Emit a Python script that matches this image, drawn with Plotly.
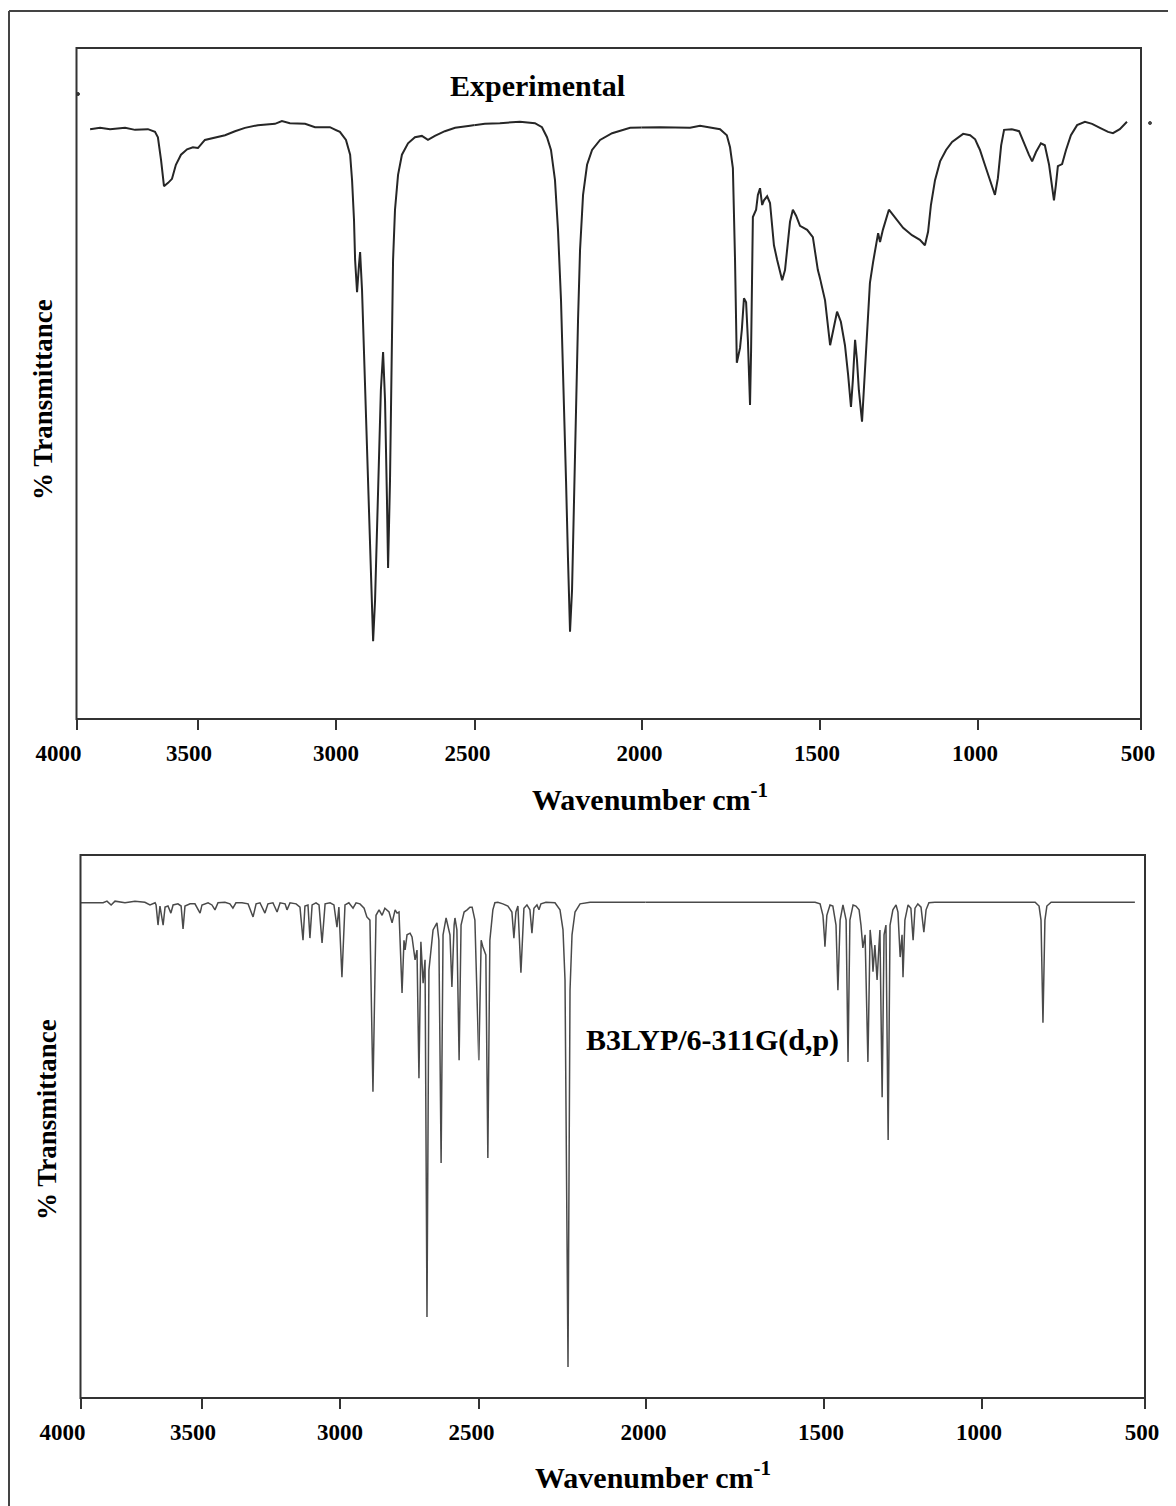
import plotly.graph_objects as go

# ---------------- data ----------------
tick_values = [4000, 3500, 3000, 2500, 2000, 1500, 1000, 500]
tick_labels = ["4000", "3500", "3000", "2500", "2000", "1500", "1000", "500"]

exp_wavenumber = [
    3944, 3903, 3862, 3800, 3759, 3706, 3677, 3665, 3652, 3640, 3623, 3607, 3591, 3570, 3545, 3521, 3500,
    3475, 3438, 3402, 3366, 3330, 3283, 3221, 3196, 3167, 3112, 3076, 3022,
    2986, 2964, 2949, 2942, 2935, 2931, 2924, 2917, 2913, 2906, 2899, 2892, 2884, 2877, 2870, 2866, 2859,
    2852, 2845, 2838, 2830, 2823, 2816, 2812, 2805, 2801, 2798, 2794, 2787, 2776, 2762, 2740, 2715, 2690,
    2668, 2643, 2607, 2570, 2516,
    2469, 2424, 2364, 2319, 2298, 2283, 2271, 2259, 2250, 2241, 2232, 2226, 2220, 2214, 2208, 2202, 2196,
    2190, 2184, 2175, 2163, 2148, 2124, 2088, 2034,
    1948, 1864, 1836, 1780, 1761, 1752, 1744, 1738, 1735, 1733, 1724, 1719, 1713, 1707, 1702, 1696, 1693,
    1691, 1688, 1679, 1674, 1668, 1662, 1657, 1648, 1640, 1629, 1620, 1612, 1606, 1598, 1590, 1584, 1576,
    1567, 1556, 1536, 1520, 1506,
    1484, 1468, 1459, 1446, 1434, 1421, 1411, 1402, 1396, 1389, 1383, 1377, 1367, 1358, 1351, 1342, 1332,
    1323, 1316, 1310, 1301, 1282, 1263, 1237, 1209, 1184, 1168, 1158, 1149, 1136, 1120, 1101, 1082, 1063,
    1047, 1025, 1009,
    994, 979, 963, 948, 939, 929, 920, 896, 874, 859, 844, 834, 822, 807, 795, 782, 773, 767, 761, 755,
    742, 730, 715, 696, 672, 650, 626, 601, 586, 565, 543,
]
exp_transmittance = [
    87.9, 88.1, 87.9, 88.1, 87.8, 87.9, 87.5, 86.7, 83.3, 79.4, 79.9, 80.5, 82.6, 84.1, 84.9, 85.2, 85.1,
    86.3, 86.7, 87.0, 87.6, 88.1, 88.5, 88.7, 89.1, 88.8, 88.7, 88.2, 88.2,
    87.5, 86.3, 84.1, 80.3, 74.4, 68.4, 63.6, 67.7, 69.6, 63.9, 55.0, 44.6, 32.6, 23.7, 14.8, 11.6, 17.7,
    29.7, 41.6, 49.0, 54.7, 47.5, 32.6, 22.5, 35.6, 47.5, 59.5, 68.4, 75.9, 81.1, 84.1, 85.8, 86.7, 86.9,
    86.3, 86.9, 87.6, 88.1, 88.4,
    88.7, 88.8, 89.0, 88.8, 88.2, 86.7, 84.8, 80.3, 72.9, 62.4, 47.5, 35.6, 23.7, 13.0, 19.2, 34.1, 47.5,
    59.5, 69.9, 78.1, 82.6, 84.8, 86.3, 87.3, 88.1,
    88.2, 88.1, 88.4, 87.9, 87.0, 85.2, 82.1, 68.4, 59.5, 53.1, 55.3, 58.0, 62.7, 62.1, 56.5, 46.8, 55.0,
    63.9, 74.8, 75.9, 78.1, 79.1, 76.6, 77.3, 77.9, 76.9, 70.6, 68.4, 66.9, 65.4, 66.9, 70.6, 74.1, 75.9,
    75.0, 73.5, 72.9, 71.8, 66.9,
    62.4, 55.7, 58.0, 60.7, 59.2, 55.7, 51.3, 46.5, 50.5, 56.5, 53.5, 49.0, 44.3, 51.6, 58.0, 65.0, 68.1,
    70.6, 72.4, 71.1, 72.9, 75.9, 74.8, 73.2, 72.1, 71.4, 70.6, 72.6, 76.6, 80.3, 83.1, 84.8, 86.0, 86.7,
    87.2, 87.0, 86.4,
    84.8, 82.6, 80.1, 78.1, 80.6, 85.5, 87.8, 87.9, 87.6, 85.8, 84.1, 83.1, 84.5, 85.8, 85.5, 82.6, 79.1,
    77.3, 79.6, 82.4, 82.7, 84.8, 87.0, 88.5, 89.0, 88.7, 88.1, 87.5, 87.3, 87.9, 89.0,
]

calc_wavenumber = [
    3998, 3907, 3891, 3874, 3858, 3817, 3776, 3735, 3714, 3693, 3689, 3681, 3673, 3660, 3652, 3640, 3628,
    3619, 3599, 3586, 3578, 3570, 3549, 3529, 3508, 3500,
    3478, 3464, 3453, 3442, 3417, 3399, 3388, 3377, 3355, 3333, 3315, 3304, 3290, 3272, 3261, 3243, 3228,
    3217, 3199, 3192, 3181, 3159, 3145, 3134, 3127, 3116, 3109, 3101, 3087, 3076, 3065, 3054, 3036, 3022,
    3011, 3004,
    2993, 2982, 2968, 2953, 2942, 2928, 2913, 2903, 2892, 2881, 2870, 2859, 2848, 2838, 2823, 2812, 2801,
    2794, 2787, 2776, 2769, 2765, 2758, 2747, 2740, 2729, 2722, 2715, 2708, 2700, 2693, 2686, 2679, 2664,
    2650, 2643, 2635, 2628, 2617, 2603, 2596, 2588, 2585, 2578, 2570, 2563, 2552, 2541, 2531, 2523, 2513,
    2499,
    2492, 2487, 2478, 2472, 2466, 2457, 2451, 2442, 2427, 2412, 2400, 2394, 2388, 2382, 2373, 2364, 2355,
    2346, 2340, 2334, 2325, 2319, 2313, 2298, 2271, 2256, 2247, 2241, 2232, 2226, 2220, 2211, 2196, 2166,
    1847,
    1525, 1511, 1503,
    1497, 1491, 1481, 1472, 1462, 1456, 1449, 1440, 1430, 1424, 1418, 1408, 1399, 1389, 1383, 1377, 1370,
    1361, 1354, 1348, 1345, 1339, 1332, 1326, 1323, 1316, 1310, 1304, 1297, 1291, 1282, 1272, 1266, 1259,
    1253, 1250, 1244, 1234, 1225, 1218, 1212, 1203, 1193, 1184, 1177, 1168, 1149, 945,
    837, 825, 819, 813, 807, 801, 788, 531,
]
calc_transmittance = [
    91.2, 91.2, 91.5, 90.8, 91.5, 91.2, 91.5, 91.3, 90.8, 91.2, 90.8, 87.1, 90.6, 87.1, 90.4, 90.6, 89.3,
    90.8, 91.0, 90.6, 86.4, 90.6, 91.0, 91.0, 89.3, 90.8,
    91.2, 90.8, 89.9, 91.2, 91.3, 91.0, 90.2, 91.2, 91.2, 91.0, 88.6, 91.0, 91.2, 89.3, 91.0, 91.2, 89.5,
    91.2, 91.0, 89.9, 91.2, 91.0, 90.4, 84.3, 90.6, 90.8, 84.7, 90.8, 91.2, 90.8, 83.8, 91.0, 91.2, 90.8,
    86.7, 90.4,
    77.5, 90.8, 91.2, 90.2, 91.2, 91.0, 90.2, 88.6, 88.0, 56.4, 88.9, 89.9, 88.9, 90.2, 89.5, 87.5, 89.9,
    89.3, 89.5, 74.6, 84.3, 82.5, 85.3, 85.6, 84.9, 80.7, 82.5, 58.9, 84.0, 76.4, 80.7, 14.9, 78.8, 86.2,
    87.5, 84.3, 43.3, 85.3, 88.4, 85.3, 75.7, 87.1, 88.4, 86.2, 62.2, 87.1, 89.5, 89.9, 90.4, 90.4, 88.0,
    62.2,
    84.3, 83.1, 81.6, 44.2, 84.3, 89.9, 91.2, 91.3, 91.0, 90.6, 89.5, 84.7, 89.5, 90.6, 78.3, 90.2, 90.8,
    89.9, 85.6, 90.2, 90.8, 89.9, 91.0, 91.3, 91.2, 89.9, 86.2, 77.0, 5.7, 75.1, 85.3, 89.5, 91.0, 91.3,
    91.3,
    91.3, 91.0, 88.9,
    83.1, 88.9, 90.8, 90.6, 87.1, 75.1, 88.0, 90.8, 88.0, 61.9, 88.0, 90.8, 90.6, 89.9, 87.1, 82.9, 85.3,
    61.9, 86.2, 82.5, 78.5, 83.4, 77.0, 83.4, 86.2, 55.4, 85.3, 87.1, 47.5, 87.1, 89.9, 90.8, 89.5, 81.2,
    85.3, 77.5, 88.0, 90.8, 90.2, 84.3, 90.2, 91.0, 90.4, 85.8, 89.9, 91.2, 91.3, 91.3,
    91.3, 90.6, 88.0, 69.1, 88.0, 90.6, 91.3, 91.3,
]

# ---------------- layout constants (pixels of the final page) ----------------
PAGE_W, PAGE_H = 1176, 1506
BODY = 8                                   # default page margin around the plot div
FIG_W, FIG_H = PAGE_W - BODY, PAGE_H - BODY
# position of each labelled tick along the (non-uniform) wavenumber axis, from the axis start
TICK_OFFSETS = [0, 121.5, 259.5, 398, 565, 743.5, 901.5, 1064.5]
# the printed tick labels sit slightly left of their tick marks in the original
# (positive = towards the left on these reversed axes)
LABEL_SHIFT = [18, 9, 0, 7, 2, 3, 3]
SERIF = "Liberation Serif"
LINE_COL = "#333333"

PANELS = [
    dict(left=76.5, top=48, bottom=719, x=exp_wavenumber, y=exp_transmittance,
         color="#262626", width=2.0, label="Experimental", label_xy=(537, 86),
         ytitle_xy=(43, 400), xtitle_xy=(650, 797)),
    dict(left=80.5, top=855, bottom=1398, x=calc_wavenumber, y=calc_transmittance,
         color="#4a4a4a", width=1.5, label="B3LYP/6-311G(d,p)", label_xy=(712, 1040),
         ytitle_xy=(47, 1120), xtitle_xy=(653, 1475)),
]


def fx(p):
    return (p - BODY) / FIG_W


def fy(p):
    return 1 - (p - BODY) / FIG_H


layout = dict(
    width=FIG_W, height=FIG_H,
    margin=dict(l=0, r=0, t=0, b=0, pad=0, autoexpand=False),
    paper_bgcolor="white", plot_bgcolor="white",
    showlegend=False, shapes=[], annotations=[],
)
traces = []
nseg = len(tick_values) - 1

for p, P in enumerate(PANELS):
    yname = "y" if p == 0 else f"y{p + 1}"
    ykey = "yaxis" if p == 0 else f"yaxis{p + 1}"
    first_x = None
    for k in range(nseg):
        n = p * nseg + k + 1
        xname = "x" if n == 1 else f"x{n}"
        xkey = "xaxis" if n == 1 else f"xaxis{n}"
        if k == 0:
            first_x = xname
        x0 = P["left"] + TICK_OFFSETS[k]
        x1 = P["left"] + TICK_OFFSETS[k + 1]
        last = k == nseg - 1
        tv = [tick_values[k]] + ([tick_values[k + 1]] if last else [])
        tt = [tick_labels[k]] + ([tick_labels[k + 1]] if last else [])
        layout[xkey] = dict(
            domain=[fx(x0), fx(x1)], range=[tick_values[k], tick_values[k + 1]],
            anchor=yname, showgrid=False, zeroline=False, showline=False, automargin=False,
            ticks="outside", ticklen=10, tickwidth=2, tickcolor=LINE_COL,
            tickmode="array", tickvals=tv, ticktext=tt, ticklabelstandoff=3,
            ticklabelshift=LABEL_SHIFT[k],
            tickfont=dict(family=SERIF, size=23, color="black", weight="bold"),
            fixedrange=True,
        )
        hi, lo = tick_values[k], tick_values[k + 1]
        xs, ys = P["x"], P["y"]
        idx = [i for i, v in enumerate(xs) if lo <= v <= hi]
        if idx:
            i0 = max(idx[0] - 1, 0)
            i1 = min(idx[-1] + 1, len(xs) - 1)
            traces.append(go.Scatter(
                x=xs[i0:i1 + 1], y=ys[i0:i1 + 1], mode="lines",
                line=dict(color=P["color"], width=P["width"]),
                xaxis=xname, yaxis=yname, hoverinfo="skip",
            ))
    layout[ykey] = dict(domain=[fy(P["bottom"]), fy(P["top"])], range=[0, 100],
                        anchor=first_x, visible=False, automargin=False, fixedrange=True)
    right = P["left"] + TICK_OFFSETS[-1]
    layout["shapes"].append(dict(
        type="rect", xref="paper", yref="paper",
        x0=fx(P["left"]), x1=fx(right), y0=fy(P["bottom"]), y1=fy(P["top"]),
        line=dict(color=LINE_COL, width=2), fillcolor="rgba(0,0,0,0)", layer="above",
    ))
    lx, ly = P["label_xy"]
    layout["annotations"].append(dict(
        text=f"<b>{P['label']}</b>", x=fx(lx), y=fy(ly), xref="paper", yref="paper",
        showarrow=False, xanchor="center", yanchor="middle",
        font=dict(family=SERIF, size=30, color="black"),
    ))
    tx, ty = P["ytitle_xy"]
    layout["annotations"].append(dict(
        text="<b>% Transmittance</b>", x=fx(tx), y=fy(ty), xref="paper", yref="paper",
        showarrow=False, xanchor="center", yanchor="middle", textangle=-90,
        font=dict(family=SERIF, size=27, color="black"),
    ))
    wx, wy = P["xtitle_xy"]
    layout["annotations"].append(dict(
        text="<b>Wavenumber cm<sup>-1</sup></b>", x=fx(wx), y=fy(wy), xref="paper", yref="paper",
        showarrow=False, xanchor="center", yanchor="middle",
        font=dict(family=SERIF, size=30, color="black"),
    ))

# outer frame of the figure (top and left edges visible)
layout["shapes"].append(dict(type="line", xref="paper", yref="paper",
                             x0=fx(9), x1=1.0, y0=fy(11), y1=fy(11),
                             line=dict(color="#444444", width=2)))
layout["shapes"].append(dict(type="line", xref="paper", yref="paper",
                             x0=fx(9), x1=fx(9), y0=0.0, y1=fy(11),
                             line=dict(color="#444444", width=2)))
# small stray marks of the original scan
layout["shapes"].append(dict(type="circle", xref="paper", yref="paper",
                             x0=fx(1148.5), x1=fx(1151.5), y0=fy(124.5), y1=fy(121.5),
                             line=dict(color="#444444", width=1), fillcolor="#444444"))
layout["shapes"].append(dict(type="circle", xref="paper", yref="paper",
                             x0=fx(76.5), x1=fx(79.5), y0=fy(95.5), y1=fy(92.5),
                             line=dict(color="#333333", width=1), fillcolor="#333333"))

fig = go.Figure(data=traces, layout=layout)
fig.write_html("out.html")
